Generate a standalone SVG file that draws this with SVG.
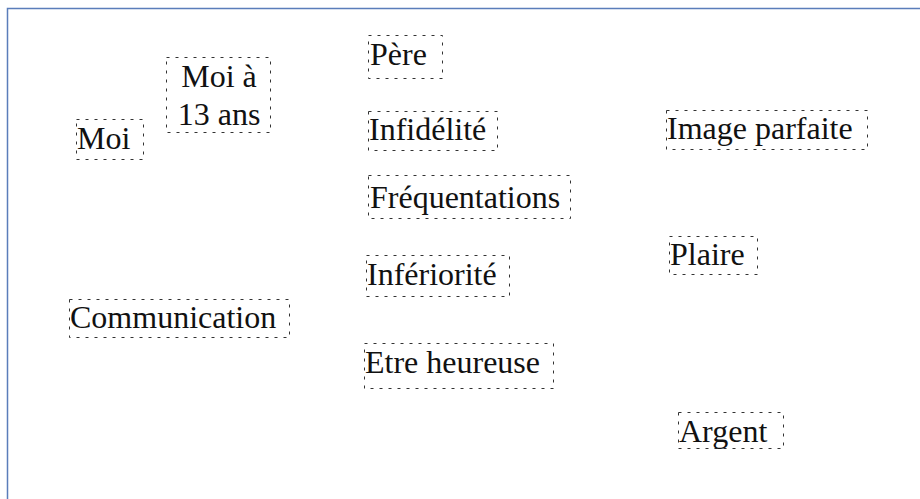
<svg xmlns="http://www.w3.org/2000/svg" width="920" height="499" viewBox="0 0 920 499">
<style>
.box{fill:none;stroke:#333;stroke-width:1;stroke-dasharray:3 6}
.t{font-family:"Liberation Serif","Times New Roman",serif;font-size:32px;fill:#111}
.frame{fill:none;stroke:#5a7dba;stroke-width:1.5}
</style>
<rect width="920" height="499" fill="#fff"/>
<path class="frame" d="M7.5 499 V8.5 H920"/>
<g id="connectors"></g>
<g id="n-moi"><rect class="box" x="76.5" y="119.5" width="67" height="40"/><text class="t" x="77" y="149">Moi</text></g>
<g id="n-moi13"><rect class="box" x="166.5" y="57.5" width="104" height="75"/><text class="t" text-anchor="middle" x="219" y="87">Moi à</text><text class="t" text-anchor="middle" x="219" y="125">13 ans</text></g>
<g id="n-pere"><rect class="box" x="368.5" y="35.5" width="74" height="43"/><text class="t" x="370" y="65">Père</text></g>
<g id="n-infidelite"><rect class="box" x="368.5" y="111.5" width="129" height="39"/><text class="t" x="369" y="140">Infidélité</text></g>
<g id="n-frequentations"><rect class="box" x="368.5" y="175.5" width="202" height="43"/><text class="t" x="370" y="208">Fréquentations</text></g>
<g id="n-inferiorite"><rect class="box" x="366.5" y="255.5" width="143" height="41"/><text class="t" x="367" y="285">Infériorité</text></g>
<g id="n-etre"><rect class="box" x="364.5" y="343.5" width="189" height="45"/><text class="t" x="365" y="373">Etre heureuse</text></g>
<g id="n-image"><rect class="box" x="666.5" y="110.5" width="201" height="39"/><text class="t" x="667" y="139">Image parfaite</text></g>
<g id="n-plaire"><rect class="box" x="669.5" y="236.5" width="88" height="38"/><text class="t" x="670" y="265">Plaire</text></g>
<g id="n-communication"><rect class="box" x="69.5" y="299.5" width="220" height="38"/><text class="t" x="70" y="328">Communication</text></g>
<g id="n-argent"><rect class="box" x="678.5" y="412.5" width="105" height="36"/><text class="t" x="679" y="442">Argent</text></g>
</svg>
